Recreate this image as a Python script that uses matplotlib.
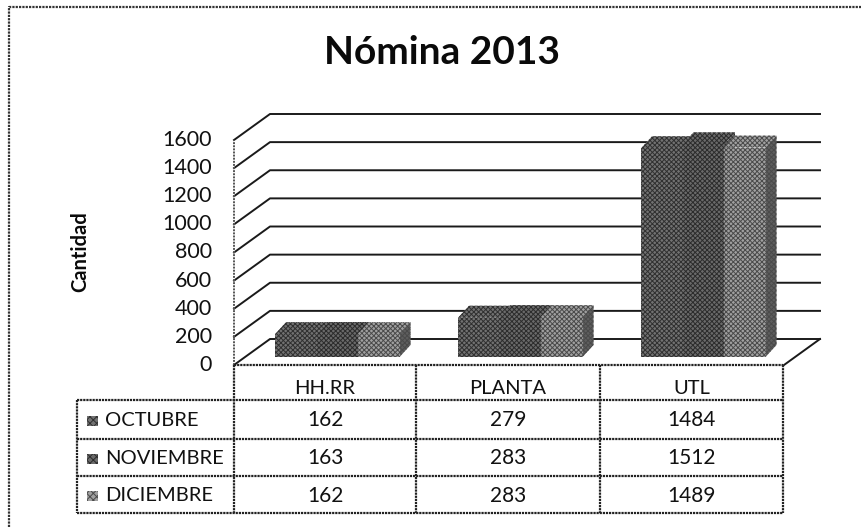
import matplotlib
matplotlib.use("Agg")
import matplotlib.pyplot as plt
from matplotlib.patches import Polygon

plt.rcParams['font.family'] = ['Lato', 'DejaVu Sans']
plt.rcParams['hatch.linewidth'] = 0.7

categorias = ['HH.RR', 'PLANTA', 'UTL']
meses = ['OCTUBRE', 'NOVIEMBRE', 'DICIEMBRE']
octubre = [162, 279, 1484]
noviembre = [163, 283, 1512]
diciembre = [162, 283, 1489]
series = [octubre, noviembre, diciembre]
ticks = [0, 200, 400, 600, 800, 1000, 1200, 1400, 1600]
colores = ['#727272', '#6a6a6a', '#a0a0a0']
tramas = ['#303030', '#2c2c2c', '#4a4a4a']

W, H = 862, 527
# escala: una categoria = 183 px, 1600 unidades = 225 px
PX_CAT = 183.0
PX_VAL = 225.0 / 1600
X0, Y0 = 234, 365
DX, DY = 36 / PX_CAT, 26 / PX_VAL  # desplazamiento de la pared del fondo


def px(x):
    return (x - X0) / PX_CAT


def py(y):
    return (Y0 - y) / PX_VAL


fig = plt.figure(figsize=(W / 100, H / 100), dpi=100)
ax = fig.add_axes([0, 0, 1, 1])
ax.set_xlim(px(0), px(W))
ax.set_ylim(py(H), py(0))
ax.axis('off')

# marco exterior: solo se ven arriba y a la izquierda
ax.plot([px(9), px(9), px(W)], [py(H), py(7), py(7)],
        color='#333333', lw=1.6, ls=(0, (1, 0.5)))

ax.text(px(442), py(52), 'Nómina 2013', fontsize=28, fontweight='bold',
        ha='center', va='center', color='#0a0a0a')
ax.text(px(80), py(252), 'Cantidad', fontsize=14.5, fontweight='bold', rotation=90,
        ha='center', va='center', color='#0a0a0a')

# rejilla: pared izquierda y fondo
x_fin = px(820)
for t in ticks:
    ax.plot([0, DX, x_fin], [t, t + DY, t + DY], color='#1a1a1a', lw=1.4, zorder=1)
    ax.text(px(212), t, str(t), fontsize=15.5, ha='right', va='center', color='#111111')
ax.plot([0, 0], [0, ticks[-1]], color='#555555', lw=1.4, ls=(0, (1, 0.6)), zorder=1)
# suelo
ax.plot([x_fin, x_fin - DX], [DY, 0], color='#1a1a1a', lw=1.4, zorder=1)

# barras
ancho = 41.5 / PX_CAT
margen = 41 / PX_CAT
d_x = 11 / PX_CAT
d_y = 12 / PX_VAL
y0 = 8 / PX_VAL
for c in range(len(categorias)):
    for s, valores in enumerate(series):
        y1 = y0 + valores[c]
        x1 = c + margen + s * ancho
        x2 = x1 + ancho
        caras = [
            [(x1, y0), (x2, y0), (x2, y1), (x1, y1)],
            [(x1, y1), (x2, y1), (x2 + d_x, y1 + d_y), (x1 + d_x, y1 + d_y)],
            [(x2, y0), (x2 + d_x, y0 + d_y), (x2 + d_x, y1 + d_y), (x2, y1)],
        ]
        for i, cara in enumerate(caras):
            cara_color = '#5e5e5e' if i == 2 else colores[s]
            ax.add_patch(Polygon(cara, closed=True, facecolor=cara_color, edgecolor=tramas[s],
                                 hatch='xxxxxxx', lw=0, zorder=3 + c + s * 0.1 + (0.05 if i == 0 else 0)))

# tabla de datos
col_x = [234, 416, 600, 783]
fil_y = [365, 400, 439, 476, 513]
lab_x = 77
punteado = dict(color='#222222', lw=1.6, ls=(0, (1, 0.4)), zorder=2)
ax.plot([px(col_x[0]), px(col_x[-1])], [py(fil_y[0])] * 2, **punteado)
for y in fil_y[1:]:
    ax.plot([px(lab_x), px(col_x[-1])], [py(y)] * 2, **punteado)
for x in col_x:
    ax.plot([px(x), px(x)], [py(fil_y[0]), py(fil_y[-1])], **punteado)
ax.plot([px(lab_x), px(lab_x)], [py(fil_y[1]), py(fil_y[-1])], **punteado)

for c, nombre in enumerate(categorias):
    xc = px((col_x[c] + col_x[c + 1]) / 2)
    ax.text(xc, py(388), nombre, fontsize=14.5, ha='center', va='center', color='#111111')
    for s, valores in enumerate(series):
        ax.text(xc, py((fil_y[s + 1] + fil_y[s + 2]) / 2 + 1), str(valores[c]), fontsize=15,
                ha='center', va='center', color='#111111')
for s, mes in enumerate(meses):
    yc = (fil_y[s + 1] + fil_y[s + 2]) / 2 + 1
    ax.add_patch(Polygon([(px(87), py(yc - 5)), (px(98), py(yc - 5)), (px(98), py(yc + 5)), (px(87), py(yc + 5))],
                         closed=True, facecolor=colores[s], edgecolor=tramas[s], hatch='xxxxx', lw=0))
    ax.text(px(105), py(yc), mes, fontsize=14.5, ha='left', va='center', color='#111111')

fig.savefig('out.png', dpi=100)
